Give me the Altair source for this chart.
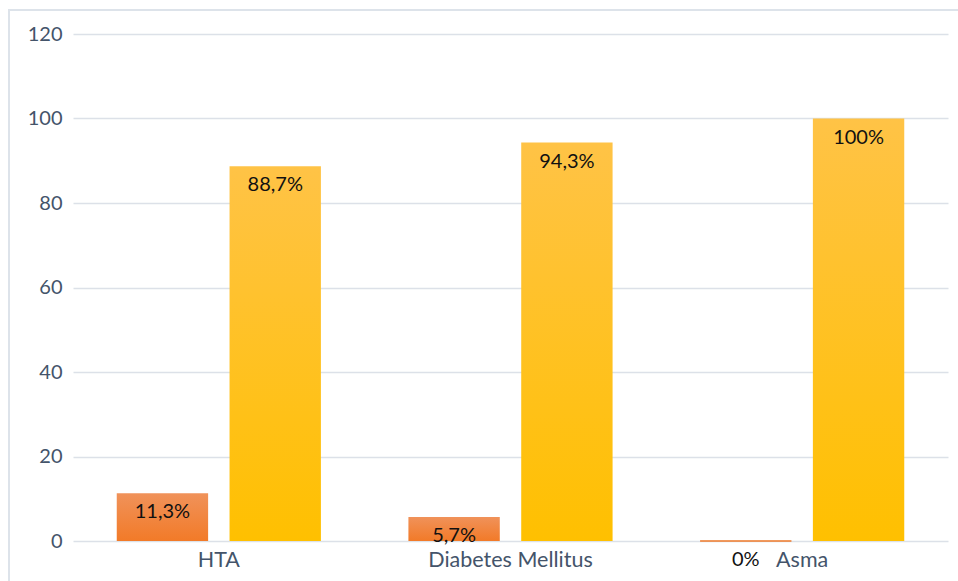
import altair as alt
import pandas as pd

# Categorías y porcentajes por serie
categorias = ["HTA", "Diabetes Mellitus", "Asma"]
serie_naranja = [11.3, 5.7, 0.0]
serie_amarilla = [88.7, 94.3, 100.0]
series = ["A", "B"]
ticks_y = [0, 20, 40, 60, 80, 100, 120]


def etiqueta(v):
    if float(v).is_integer():
        return f"{int(v)}%"
    return f"{v:.1f}".replace(".", ",") + "%"


filas = []
for cat, a, b in zip(categorias, serie_naranja, serie_amarilla):
    filas.append({"categoria": cat, "serie": series[0], "valor": a, "etiqueta": etiqueta(a)})
    filas.append({"categoria": cat, "serie": series[1], "valor": b, "etiqueta": etiqueta(b)})
df = pd.DataFrame(filas)

FUENTE = "Lato"
GRIS_TEXTO = "#44546A"

grad_naranja = alt.LinearGradient(
    gradient="linear", x1=0, x2=0, y1=0, y2=1,
    stops=[alt.GradientStop(color="#F0925A", offset=0),
           alt.GradientStop(color="#F27A28", offset=1)],
)
grad_amarilla = alt.LinearGradient(
    gradient="linear", x1=0, x2=0, y1=0, y2=1,
    stops=[alt.GradientStop(color="#FFC346", offset=0),
           alt.GradientStop(color="#FFC000", offset=1)],
)

x_enc = alt.X(
    "categoria:N", sort=categorias, title=None,
    scale=alt.Scale(paddingInner=0.3, paddingOuter=0.15),
    axis=alt.Axis(labelAngle=0, labelFont=FUENTE, labelFontSize=21.5,
                  labelColor=GRIS_TEXTO, labelPadding=8, domain=False, ticks=False),
)
xoff_enc = alt.XOffset("serie:N", sort=series,
                       scale=alt.Scale(domain=series, paddingInner=0.19))
y_enc = alt.Y(
    "valor:Q", title=None,
    scale=alt.Scale(domain=[0, 120], nice=False),
    axis=alt.Axis(values=ticks_y, labelFont=FUENTE, labelFontSize=20,
                  labelColor=GRIS_TEXTO, labelPadding=11, domain=False, ticks=False,
                  grid=True, gridColor="#DCE1E8", gridWidth=1.5),
)

base = alt.Chart(df)

# barras naranjas; la de valor cero se ve como una línea fina sobre la base
barras_a = base.transform_filter(alt.datum.serie == series[0]).mark_bar(
    color=grad_naranja, stroke="#F07A2A"
).encode(
    x=x_enc, xOffset=xoff_enc, y=y_enc,
    strokeWidth=alt.condition(alt.datum.valor == 0, alt.value(1.5), alt.value(0)),
)

barras_b = base.transform_filter(alt.datum.serie == series[1]).mark_bar(
    color=grad_amarilla
).encode(x=x_enc, xOffset=xoff_enc, y=y_enc)

textos = base.mark_text(
    font=FUENTE, fontSize=20, color="#111111", baseline="middle", dy=19
).encode(x=x_enc, xOffset=xoff_enc, y=y_enc, text="etiqueta:N")

marco = alt.Chart(alt.Data(values=[{}])).mark_rect(
    fill=None, stroke="#DDE3EA", strokeWidth=2
).encode(x=alt.value(-64), y=alt.value(-24), x2=alt.value(900), y2=alt.value(570))

chart = alt.layer(marco, barras_a, barras_b, textos).properties(
    width=875, height=507,
    autosize=alt.AutoSizeParams(type="none"),
    padding={"left": 73, "top": 34, "right": 10, "bottom": 40},
    background="white",
).configure_view(stroke=None)

chart.save("out.html", embed_options={"renderer": "svg", "actions": False})
